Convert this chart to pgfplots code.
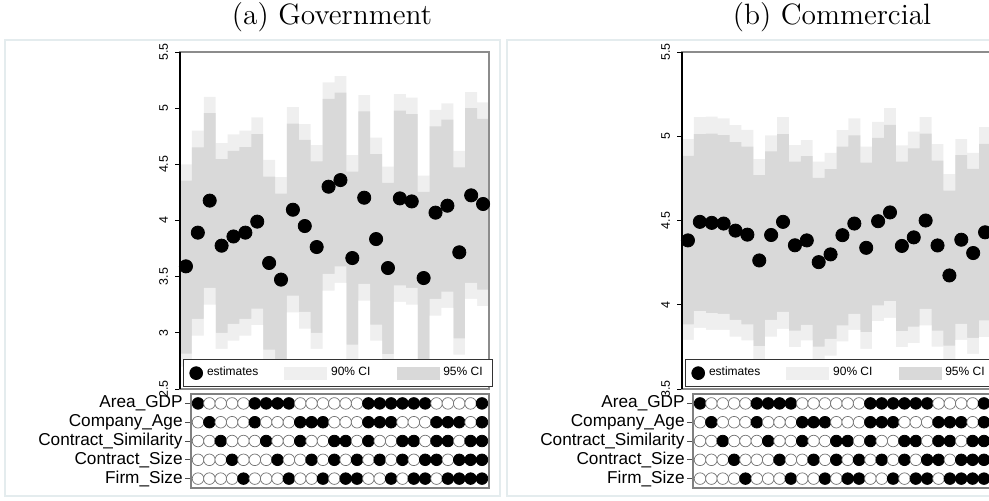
\documentclass[border=0pt]{standalone}
\usepackage{fontspec}
\setsansfont{Liberation Sans}
\usepackage{pgfplots}
\usepackage{pgfplotstable}
\pgfplotsset{compat=1.18}

\definecolor{ciL}{RGB}{239,239,239}
\definecolor{ciD}{RGB}{217,217,217}
\definecolor{panelline}{RGB}{228,236,238}

% xl = left edge of each column, xc = column centre
\pgfplotstableread{
xl   xc  u95   u90   l90   l95   est
0.5  1   4.500 4.355 2.816 2.700 3.592
1.5  2   4.800 4.650 3.124 2.976 3.892
2.5  3   5.100 4.957 3.400 3.251 4.177
3.5  4   4.690 4.547 2.999 2.857 3.776
4.5  5   4.767 4.619 3.080 2.930 3.858
5.5  6   4.800 4.654 3.124 2.976 3.892
6.5  7   4.918 4.770 3.216 3.068 3.990
7.5  8   4.539 4.390 2.851 2.700 3.622
8.5  9   4.387 4.240 2.700 2.550 3.474
9.5  10  5.010 4.862 3.331 3.183 4.096
10.5 11  4.859 4.717 3.186 3.038 3.951
11.5 12  4.672 4.527 2.999 2.857 3.764
12.5 13  5.230 5.082 3.524 3.376 4.301
13.5 14  5.286 5.138 3.592 3.444 4.360
14.5 15  4.583 4.435 2.896 2.748 3.666
15.5 16  5.117 4.972 3.435 3.287 4.203
16.5 17  4.737 4.592 3.074 2.931 3.835
17.5 18  4.479 4.334 2.810 2.660 3.577
18.5 19  5.126 4.978 3.423 3.275 4.197
19.5 20  5.093 4.948 3.400 3.251 4.170
20.5 21  4.399 4.254 2.720 2.570 3.488
21.5 22  4.984 4.838 3.302 3.154 4.070
22.5 23  5.043 4.898 3.367 3.222 4.132
23.5 24  4.619 4.473 2.950 2.807 3.717
24.5 25  5.144 5.000 3.444 3.302 4.224
25.5 26  5.052 4.904 3.385 3.237 4.147
26.5 nan 5.052 4.904 3.385 3.237 nan
}\gov

\pgfplotstableread{
xl   xc  u95   u90   l90   l95   est
0.5  1   4.983 4.884 3.883 3.792 4.382
1.5  2   5.114 5.013 3.962 3.863 4.492
2.5  3   5.117 5.015 3.950 3.851 4.486
3.5  4   5.106 5.007 3.946 3.851 4.482
4.5  5   5.066 4.965 3.911 3.811 4.440
5.5  6   5.038 4.938 3.883 3.788 4.416
6.5  7   4.864 4.769 3.754 3.659 4.263
7.5  8   5.005 4.910 3.911 3.811 4.414
8.5  9   5.114 5.013 3.958 3.857 4.492
9.5  10  4.948 4.849 3.847 3.748 4.353
10.5 11  4.977 4.882 3.881 3.788 4.382
11.5 12  4.849 4.753 3.752 3.659 4.253
12.5 13  4.902 4.805 3.797 3.698 4.299
13.5 14  5.037 4.938 3.877 3.782 4.413
14.5 15  5.106 5.005 3.946 3.851 4.482
15.5 16  4.938 4.843 3.837 3.738 4.338
16.5 17  5.086 4.991 3.996 3.903 4.496
17.5 18  5.167 5.068 4.021 3.922 4.548
18.5 19  4.946 4.849 3.843 3.748 4.349
19.5 20  5.027 4.928 3.871 3.772 4.400
20.5 21  5.114 5.015 3.976 3.877 4.500
21.5 22  4.953 4.856 3.847 3.752 4.352
22.5 23  4.775 4.678 3.758 3.665 4.174
23.5 24  4.983 4.888 3.887 3.792 4.386
24.5 25  4.902 4.807 3.803 3.708 4.307
25.5 26  5.054 4.955 3.907 3.808 4.430
26.5 nan 5.054 4.955 3.907 3.808 nan
}\com

% which controls enter each specification
\pgfplotstableread{
x  A B C D E
1  1 0 0 0 0
2  0 1 0 0 0
3  0 0 1 0 0
4  0 0 0 1 0
5  0 0 0 0 1
6  1 1 0 0 0
7  1 0 1 0 0
8  1 0 0 1 0
9  1 0 0 0 1
10 0 1 1 0 0
11 0 1 0 1 0
12 0 1 0 0 1
13 0 0 1 1 0
14 0 0 1 0 1
15 0 0 0 1 1
16 1 1 1 0 0
17 1 1 0 1 0
18 1 1 0 0 1
19 1 0 1 1 0
20 1 0 1 0 1
21 1 0 0 1 1
22 0 1 1 1 0
23 0 1 1 0 1
24 0 1 0 1 1
25 0 0 1 1 1
26 1 1 1 1 1
}\spec

\pgfplotsset{
  every axis/.append style={font=\sffamily},
  curve/.style={
    scale only axis, width=154.5pt, height=168.5pt,
    xmin=0.5, xmax=26.5, xtick=\empty,
    axis line style={black!45, line width=0.6pt},
    axis on top,
    ytick pos=left, tick align=outside, major tick length=2.5pt,
    tick style={black, line width=0.4pt},
    yticklabel style={rotate=90, anchor=south, font=\sffamily\fontsize{6.2}{6.2}\selectfont},
    /pgf/number format/assume math mode=true,
    extra description/.code={\draw[black, line width=0.6pt] (rel axis cs:0,0) -- (rel axis cs:0,1);},
    legend columns=3,
    legend style={at={(0.0097,0.006)}, anchor=south west, draw=black!80, line width=0.4pt,
      fill=white, inner xsep=3pt, inner ysep=1.8pt,
      font=\sffamily\fontsize{6}{6.5}\selectfont,
      /tikz/every even column/.append style={column sep=11pt}},
  },
  grid/.style={
    scale only axis, width=149pt, height=47pt,
    xmin=0.38, xmax=26.62, ymin=0.5, ymax=5.5, xtick=\empty,
    ytick={1,2,3,4,5},
    yticklabels={Firm\_Size,Contract\_Size,Contract\_Similarity,Company\_Age,Area\_GDP},
    axis line style={black!50, line width=0.8pt},
    ytick pos=left, tick align=outside, major tick length=3pt,
    tick style={black!70, line width=0.4pt},
    yticklabel style={font=\sffamily\fontsize{8.6}{9}\selectfont, inner sep=1pt},
    clip=false,
  },
  dots/.style={only marks, mark=*, mark size=2.9pt,
    scatter, scatter src=explicit symbolic,
    scatter/classes={
      0={mark=*, fill=white, draw=black!55, line width=0.35pt},
      1={mark=*, fill=black, draw=black}}},
  step/.style={const plot, draw=none, forget plot},
}

% bands are layered step areas: outer band, inner band, then back to outer, then white
\newcommand{\bands}[1]{%
  \addlegendimage{legend image code/.code={\fill[black] (3.2pt,0pt) circle (3.2pt);}}
  \addlegendentry{estimates}
  \addlegendimage{legend image code/.code={\fill[ciL] (0pt,-3pt) rectangle (21pt,3pt);}}
  \addlegendentry{90\% CI}
  \addlegendimage{legend image code/.code={\fill[ciD] (0pt,-3pt) rectangle (21pt,3pt);}}
  \addlegendentry{95\% CI}
  \addplot[step, fill=ciL] table[x=xl, y=u95] {#1} \closedcycle;
  \addplot[step, fill=ciD] table[x=xl, y=u90] {#1} \closedcycle;
  \addplot[step, fill=ciL] table[x=xl, y=l90] {#1} \closedcycle;
  \addplot[step, fill=white] table[x=xl, y=l95] {#1} \closedcycle;
  \addplot[only marks, mark=*, mark size=3.3pt, black, forget plot] table[x=xc, y=est] {#1};
}

\newcommand{\specgrid}{%
  \addplot[dots] table[x=x, y expr=5, meta=A] {\spec};
  \addplot[dots] table[x=x, y expr=4, meta=B] {\spec};
  \addplot[dots] table[x=x, y expr=3, meta=C] {\spec};
  \addplot[dots] table[x=x, y expr=2, meta=D] {\spec};
  \addplot[dots] table[x=x, y expr=1, meta=E] {\spec};
}

\begin{document}
\begin{tikzpicture}
\draw[panelline, line width=0.6pt] (2.5pt,-20pt) rectangle (250pt,-248pt);
\draw[panelline, line width=0.6pt] (253.5pt,-20pt) rectangle (502pt,-248pt);

\node[font=\fontsize{14.7}{16}\selectfont] at (166pt,-8.5pt) {(a) Government};
\node[font=\fontsize{14.7}{16}\selectfont] at (416pt,-8.5pt) {(b) Commercial};

% (a) Government
\begin{axis}[curve, at={(90pt,-194.5pt)}, anchor=south west,
  ymin=2.5, ymax=5.5, ytick={2.5,3,3.5,4,4.5,5,5.5}]
  \bands{\gov}
\end{axis}
\begin{axis}[grid, at={(95.5pt,-244pt)}, anchor=south west]
  \specgrid
\end{axis}

% (b) Commercial
\begin{axis}[curve, at={(341pt,-194.5pt)}, anchor=south west,
  ymin=3.5, ymax=5.5, ytick={3.5,4,4.5,5,5.5}]
  \bands{\com}
\end{axis}
\begin{axis}[grid, at={(346.5pt,-244pt)}, anchor=south west]
  \specgrid
\end{axis}

\pgfresetboundingbox
\path[use as bounding box] (0,0) rectangle (494.5pt,-250pt);
\end{tikzpicture}
\end{document}
